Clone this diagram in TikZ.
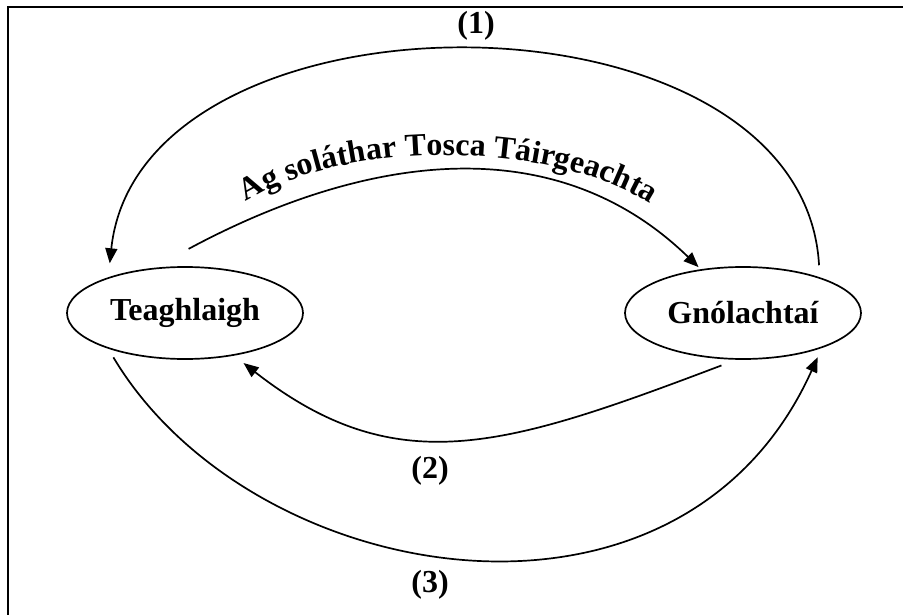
\documentclass[tikz,border=0pt]{standalone}
\usepackage{fontspec}
\setmainfont{Liberation Serif}
\usetikzlibrary{arrows.meta,shapes.geometric,decorations.text}
\begin{document}
\begin{tikzpicture}[x=1pt,y=-1pt,line width=1.7pt,
	sector/.style={ellipse,draw,minimum width=236pt,minimum height=92pt,inner sep=0pt,font=\bfseries\fontsize{32}{32}\selectfont},
	flow/.style={-{Triangle[length=15pt,width=12pt]}},
	num/.style={font=\bfseries\fontsize{32}{32}\selectfont}]
	\useasboundingbox (0,0) rectangle (903,615);
	\draw[line width=2.2pt] (8,616) -- (8,7) -- (904,7);

	\node[sector] (teag) at (185,313) {Teaghlaigh};
	\node[sector] (gnol) at (743,313) {Gnólachtaí};

	\node[num] (lab1) at (476,26) {(1)};
	\node[num] (lab2) at (430,471) {(2)};
	\node[num] (lab3) at (430,585) {(3)};

	\draw[flow,shorten <=12pt,shorten >=14pt] (gnol.25) .. controls (803,-22) and (140,-23) .. (teag.155);
	\draw[flow,shorten <=40pt,shorten >=3pt] (teag.125) .. controls (352,161) and (548,121) .. (gnol.134);
	\draw[flow,shorten <=16pt,shorten >=12pt] (gnol.262) .. controls (506,447) and (397,483) .. (teag.319);
	\draw[flow,shorten <=10pt,shorten >=10pt] (teag.205) .. controls (251,588) and (680,663) .. (gnol.336);

	\path[decorate,decoration={text along path,text align=center,
		text={|\bfseries\fontsize{32}{32}\selectfont|Ag soláthar Tosca Táirgeachta}}]
		(224,218) .. controls (322,133) and (575,135) .. (672,220);
\end{tikzpicture}
\end{document}
